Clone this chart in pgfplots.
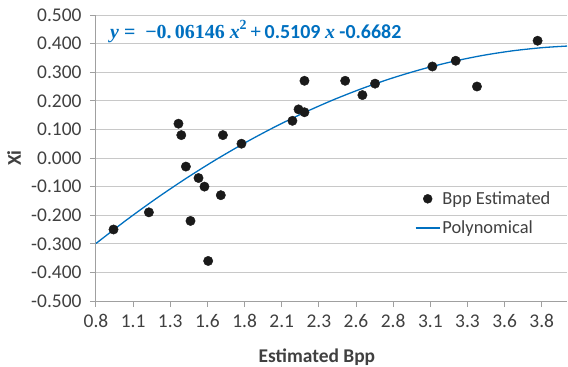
\documentclass[border=0pt]{standalone}
\usepackage{pgfplots}
\pgfplotsset{compat=1.18}
\usepackage{fontspec}
\setmainfont{Carlito}
\newfontfamily\eqserif{Liberation Serif}
\definecolor{trend}{RGB}{0,112,192}
\definecolor{gridc}{RGB}{200,200,200}
\definecolor{axc}{RGB}{160,160,160}
\definecolor{txt}{RGB}{64,64,64}
\definecolor{dot}{RGB}{26,26,26}
\begin{document}
\begin{tikzpicture}
\useasboundingbox (-96bp,-66bp) rectangle (472bp,301bp);
\begin{axis}[
  scale only axis, width=471bp, height=286bp,
  xmin=0.8, xmax=3.97, ymin=-0.5, ymax=0.5,
  axis lines*=left,
  axis line style={axc, line width=1bp},
  xtick={0.8,1.05,1.3,1.55,1.8,2.05,2.3,2.55,2.8,3.05,3.3,3.55,3.8},
  xticklabels={0.8,1.1,1.3,1.6,1.8,2.1,2.3,2.6,2.8,3.1,3.3,3.6,3.8},
  ytick={-0.5,-0.4,-0.3,-0.2,-0.1,0,0.1,0.2,0.3,0.4,0.5},
  yticklabels={-0.500,-0.400,-0.300,-0.200,-0.100,0.000,0.100,0.200,0.300,0.400,0.500},
  ymajorgrids, grid style={gridc, line width=1bp},
  tick align=outside, major tick length=6bp,
  every tick/.style={axc, line width=1bp},
  tick label style={font=\fontsize{19.5}{22}\selectfont, text=txt},
  xticklabel style={yshift=-4bp},
  yticklabel style={xshift=-5bp},
  /pgf/number format/assume math mode=true,
  xlabel={Estimated Bpp}, ylabel={Xi},
  label style={font=\fontsize{19.5}{22}\selectfont\bfseries, text=txt},
  xlabel style={at={(axis description cs:0.469,-0.196)}, anchor=center},
  ylabel style={at={(axis description cs:-0.174,0.5)}, anchor=center},
  legend style={at={(axis description cs:0.677,0.39)}, anchor=north west, draw=none, fill=none,
    font=\fontsize{18.5}{21}\selectfont, text=txt, row sep=11bp, inner sep=0pt,
    cells={anchor=west}},
  clip=false,
]
\addplot[only marks, mark=*, mark size=4.7bp, mark options={fill=dot, draw=dot},
  legend image code/.code={\fill[dot] (12bp,0) circle (4.5bp);}]
  coordinates {
  (0.918,-0.25) (1.156,-0.19) (1.355,0.12) (1.374,0.08) (1.405,-0.03)
  (1.436,-0.22) (1.490,-0.07) (1.530,-0.10) (1.555,-0.36) (1.640,-0.13)
  (1.654,0.08) (1.779,0.05) (2.122,0.13) (2.163,0.17) (2.203,0.16)
  (2.203,0.27) (2.477,0.27) (2.593,0.22) (2.678,0.26) (3.064,0.32)
  (3.221,0.34) (3.364,0.25) (3.772,0.41)
  };
\addlegendentry{Bpp Estimated}
\addplot[trend, line width=1.3bp, smooth, no marks,
  legend image code/.code={\draw[trend, line width=1.3bp] (0,0) -- (24bp,0);}]
  coordinates {
  (0.8,-0.2988) (1.0,-0.2188) (1.2,-0.1436) (1.4,-0.0734) (1.6,-0.0081)
  (1.8,0.0523) (2.0,0.1078) (2.2,0.1583) (2.4,0.2040) (2.6,0.2447)
  (2.8,0.2805) (3.0,0.3114) (3.2,0.3373) (3.4,0.3584) (3.6,0.3745)
  (3.8,0.3857) (3.97,0.3914)
  };
\addlegendentry{Polynomical}
\end{axis}
\node[anchor=west, text=trend, inner sep=0pt] at (14bp,269bp)
  {\fontsize{20}{23}\selectfont\bfseries{\eqserif\itshape y}{\eqserif\ =\ \ −0.\,06146\ }{\eqserif\itshape x}\raisebox{0.45em}{\eqserif\fontsize{14}{16}\selectfont 2}\,{\eqserif +}\,0.5109\ {\eqserif\itshape x}\ -0.6682};
\end{tikzpicture}
\end{document}
